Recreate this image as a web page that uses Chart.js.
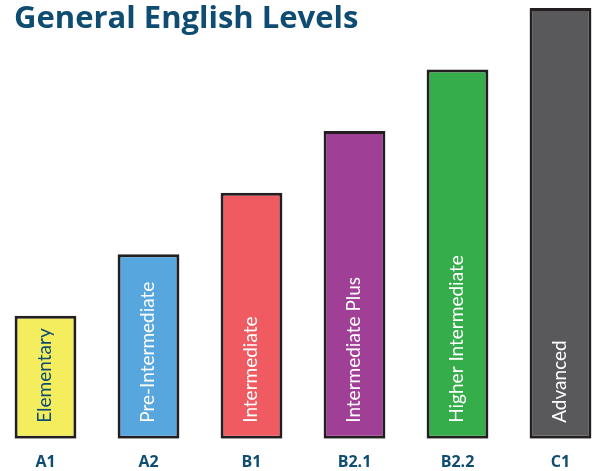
<!DOCTYPE html>
<html>
<head>
<meta charset="utf-8">
<script src="https://cdn.jsdelivr.net/npm/chart.js@4/dist/chart.umd.min.js"></script>
<style>
html,body{margin:0;padding:0;width:593px;height:471px;overflow:hidden;background:#fff;}
#wrap{position:relative;width:593px;height:471px;overflow:hidden;}
#c{position:absolute;left:-6px;top:0;}
#title{position:absolute;left:14px;top:-5px;font-family:"Open Sans",Lato,sans-serif;font-weight:bold;font-size:31px;color:#0f4c71;white-space:nowrap;z-index:2;}
</style>
</head>
<body>
<div id="wrap">
<div id="title">General English Levels</div>
<canvas id="c" width="618" height="486"></canvas>
</div>
<script>
const categories = ["A1", "A2", "B1", "B2.1", "B2.2", "C1"];
const levelNames = ["Elementary", "Pre-Intermediate", "Intermediate", "Intermediate Plus", "Higher Intermediate", "Advanced"];
const levelValues = [2, 3, 4, 5, 6, 7];
const barColors = ["#f4ee5f", "#57a6dd", "#ef5b60", "#a03f96", "#36ad4b", "#59595b"];
const labelColors = ["#0f4c71", "#ffffff", "#ffffff", "#ffffff", "#ffffff", "#ffffff"];

const innerLabels = {
  id: 'innerLabels',
  afterDatasetsDraw(chart) {
    const ctx = chart.ctx;
    const meta = chart.getDatasetMeta(0);
    ctx.save();
    ctx.font = '19px Lato, "Open Sans", sans-serif';
    ctx.textAlign = 'left';
    ctx.textBaseline = 'middle';
    meta.data.forEach((bar, i) => {
      ctx.save();
      ctx.translate(bar.x - 1, bar.base - 16);
      ctx.rotate(-Math.PI / 2);
      ctx.fillStyle = labelColors[i];
      ctx.fillText(levelNames[i], 0, 0);
      ctx.restore();
    });
    ctx.restore();
  }
};

new Chart(document.getElementById('c'), {
  type: 'bar',
  data: {
    labels: categories,
    datasets: [{
      data: levelValues,
      backgroundColor: barColors,
      borderColor: '#231f20',
      borderWidth: 3,
      borderSkipped: false,
      barPercentage: 0.6,
      categoryPercentage: 1
    }]
  },
  options: {
    responsive: false,
    animation: false,
    layout: { padding: { top: 8, left: 0, right: 0, bottom: 0 } },
    plugins: { legend: { display: false }, tooltip: { enabled: false } },
    scales: {
      y: { display: false, min: 0, max: 7 },
      x: {
        grid: { display: false, drawTicks: false },
        border: { display: false },
        ticks: {
          padding: 14,
          color: '#0f4c71',
          font: { family: '"Open Sans", Lato, sans-serif', weight: 'bold', size: 16 }
        }
      }
    }
  },
  plugins: [innerLabels]
});
</script>
</body>
</html>
